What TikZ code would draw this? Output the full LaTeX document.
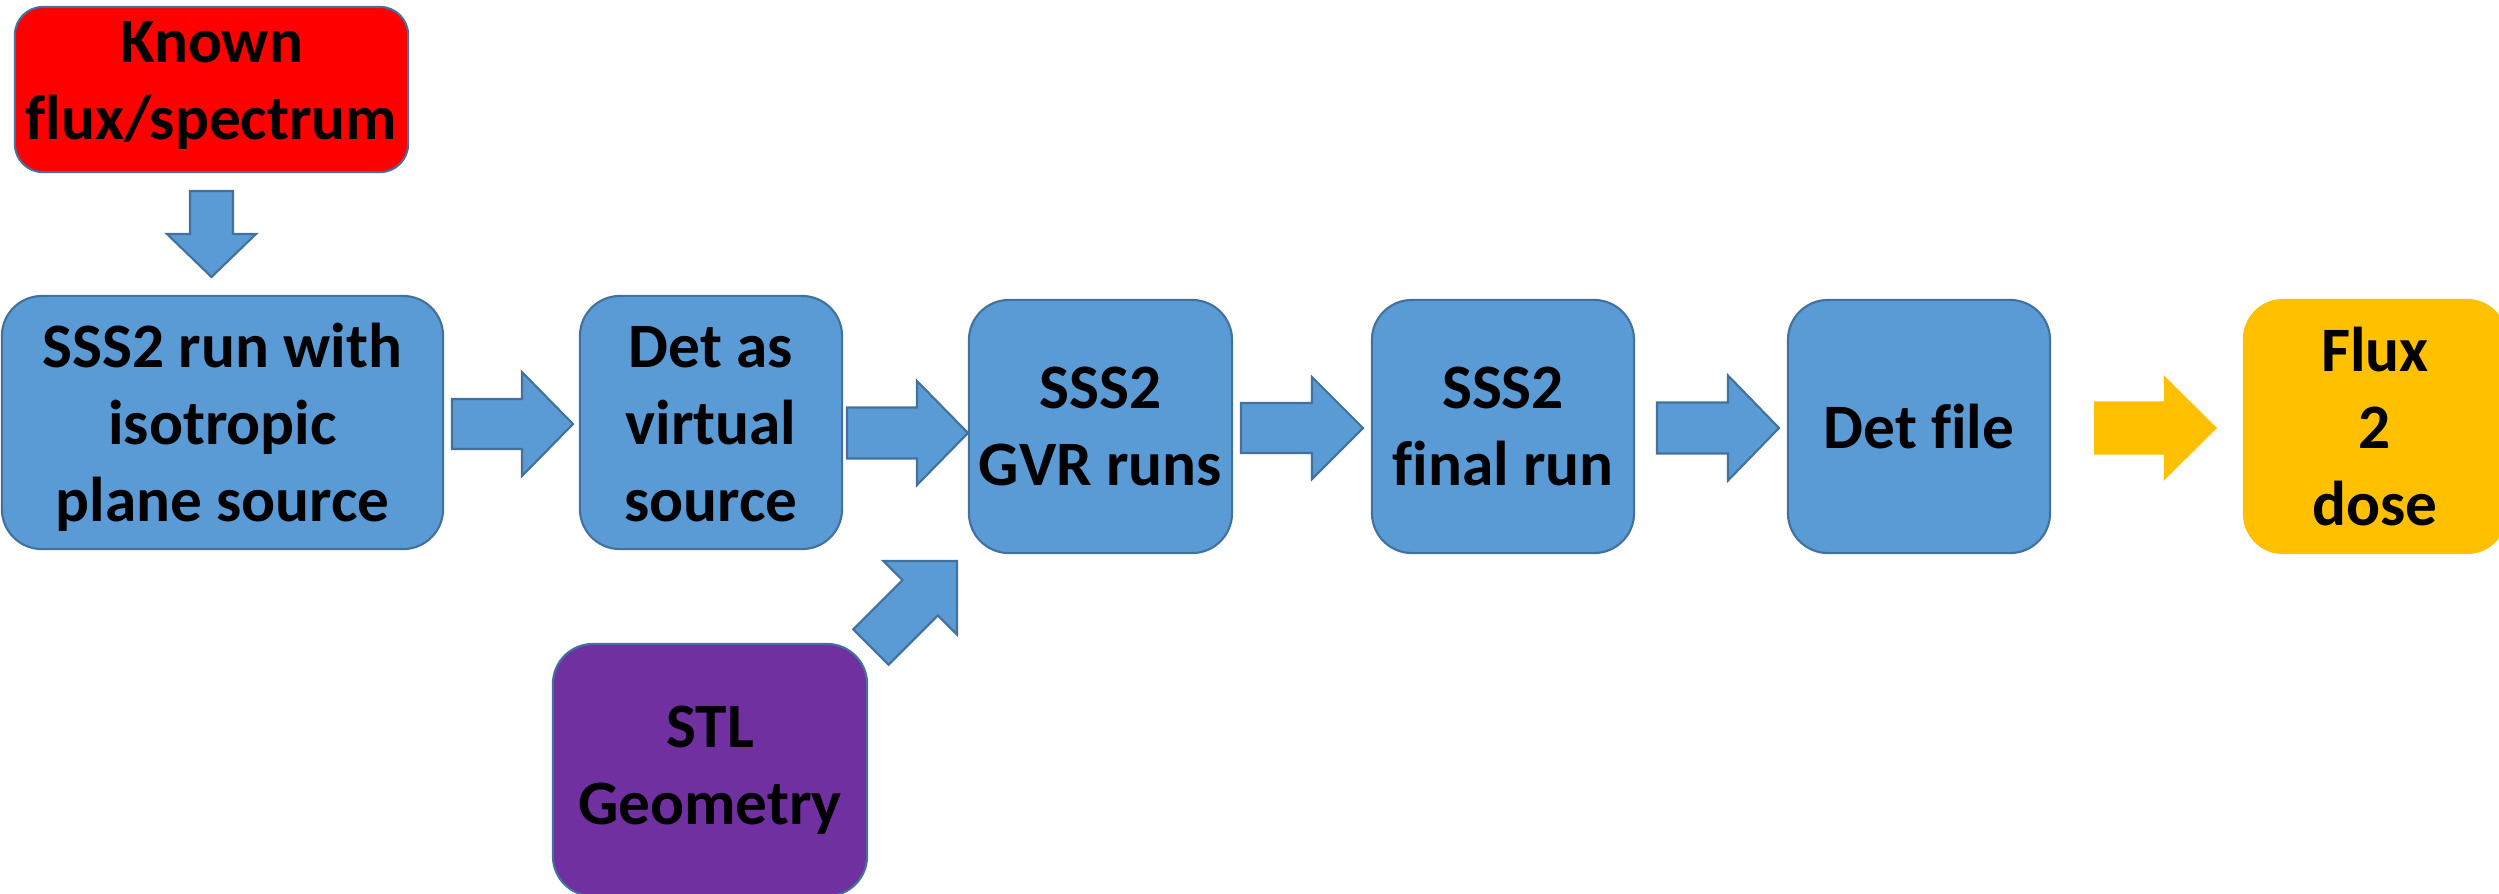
\documentclass[tikz,border=0pt]{standalone}
\usepackage{fontspec}
\setmainfont{Carlito}[Ligatures=NoCommon]
\usetikzlibrary{calc}
\definecolor{bfill}{HTML}{5B9BD5}
\definecolor{bline}{HTML}{41719C}
\definecolor{rfill}{HTML}{FF0000}
\definecolor{pfill}{HTML}{7030A0}
\definecolor{ofill}{HTML}{FFC000}
\tikzset{
  box/.style={draw=bline, line width=0.6pt, rounded corners=0.4cm, align=center,
    inner sep=0pt, font=\bfseries\fontsize{18}{21.9}\selectfont, text=black},
  bluebox/.style={box, fill=bfill},
  redbox/.style={box, fill=rfill, rounded corners=0.28cm},
  purplebox/.style={box, fill=pfill},
  orangebox/.style={box, fill=ofill, draw=none},
  blockarr/.style={fill=bfill, draw=bline, line width=0.6pt, line join=miter},
  orangearr/.style={fill=ofill, draw=none},
}
% lines of text moved vertically without changing the box size
\newcommand{\shiftlines}[2]{\raisebox{#1}[\height][\depth]{\begin{tabular}{@{}c@{}}#2\end{tabular}}}
% #1 style, #2 start, #3 tip, #4 shaft half width, #5 head half width, #6 head length
\newcommand{\blockarrow}[6]{%
  \coordinate (hb) at ($(#3)!#6!(#2)$);
  \path[#1] ($(#2)!#4!90:(#3)$) -- ($(hb)!#4!-90:(#2)$) -- ($(hb)!#5!-90:(#2)$)
    -- (#3) -- ($(hb)!#5!90:(#2)$) -- ($(hb)!#4!90:(#2)$) -- ($(#2)!#4!-90:(#3)$) -- cycle;
}
\begin{document}
\begin{tikzpicture}[x=0.01cm, y=-0.01cm]
\useasboundingbox (0,0) rectangle (2499,893);
\clip (0,0) rectangle (2499,893);

% boxes
\node[redbox, minimum width=3.93cm, minimum height=1.65cm] (known) at (211.5,89.5) {\shiftlines{0.04cm}{Known\\flux/spectrum}};
\node[bluebox, minimum width=4.41cm, minimum height=2.53cm] (run1) at (222.5,422.5) {\shiftlines{-0.07cm}{SSS2 run with\\isotropic\\plane source}};
\node[bluebox, minimum width=2.62cm, minimum height=2.53cm] (det) at (711,422.5) {\shiftlines{-0.07cm}{Det as\\virtual\\source}};
\node[bluebox, minimum width=2.63cm, minimum height=2.53cm] (gvr) at (1100.5,426.5) {SSS2\\GVR runs};
\node[bluebox, minimum width=2.62cm, minimum height=2.53cm] (final) at (1503,426.5) {SSS2\\final run};
\node[bluebox, minimum width=2.62cm, minimum height=2.53cm] (detfile) at (1919,426.5) {Det file};
\node[orangebox, minimum width=2.64cm, minimum height=2.55cm] (flux) at (2375,426.5) {Flux\\2\\dose};
\node[purplebox, minimum width=3.14cm, minimum height=2.52cm] (stl) at (710,770) {STL\\Geometry};

% block arrows
\coordinate (a0s) at (211.5,191);  \coordinate (a0t) at (211.5,277);
\coordinate (a1s) at (452,424);    \coordinate (a1t) at (573,424);
\coordinate (a2s) at (847,433);    \coordinate (a2t) at (968,433);
\coordinate (a3s) at (1241,428);   \coordinate (a3t) at (1363,428);
\coordinate (a4s) at (1657,428);   \coordinate (a4t) at (1779,428);
\coordinate (a5s) at (2094,428);   \coordinate (a5t) at (2217,428);
\coordinate (a6s) at (871,647);    \coordinate (a6t) at (957,561);

\blockarrow{blockarr}{a0s}{a0t}{0.215cm}{0.445cm}{0.43cm}
\blockarrow{blockarr}{a1s}{a1t}{0.25cm}{0.52cm}{0.51cm}
\blockarrow{blockarr}{a2s}{a2t}{0.255cm}{0.52cm}{0.51cm}
\blockarrow{blockarr}{a3s}{a3t}{0.25cm}{0.51cm}{0.51cm}
\blockarrow{blockarr}{a4s}{a4t}{0.255cm}{0.525cm}{0.51cm}
\blockarrow{orangearr}{a5s}{a5t}{0.265cm}{0.525cm}{0.53cm}
\blockarrow{blockarr}{a6s}{a6t}{0.25cm}{0.52cm}{0.52cm}
\end{tikzpicture}
\end{document}
